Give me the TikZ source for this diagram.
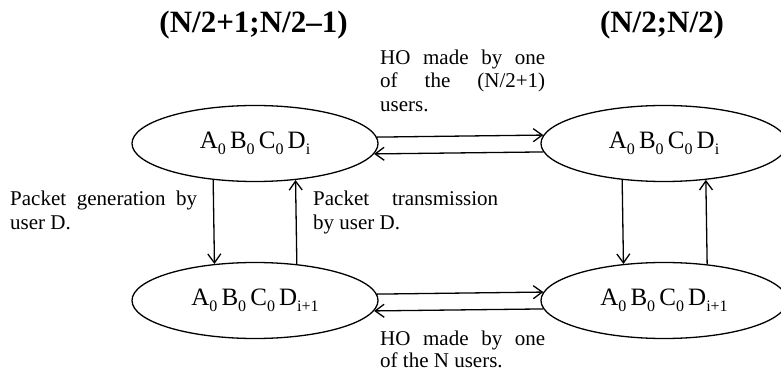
\documentclass[tikz,border=0pt]{standalone}
\usepackage{fontspec}
\setmainfont{Liberation Serif}
\usetikzlibrary{arrows.meta,shapes.geometric}

% state label with lowered subscripts
\newcommand\lowsub[1]{\raisebox{-0.22em}{\fontsize{16}{16}\selectfont #1}}

\tikzset{
  state/.style={ellipse, draw, line width=1.3pt, minimum width=246pt,
    minimum height=76pt, inner sep=0pt, font=\fontsize{25}{27}\selectfont},
  flow/.style={line width=1.3pt, -{Straight Barb[length=9pt,width=13pt,line width=1.3pt]}},
  lbl/.style={anchor=base west, inner sep=0pt, font=\fontsize{21}{23}\selectfont},
  head/.style={anchor=base, inner sep=0pt, font=\fontsize{31}{33}\selectfont\bfseries}
}

\begin{document}
\begin{tikzpicture}[x=1pt,y=-1pt]
\useasboundingbox (0,0) rectangle (781,379);

% headers
\node[head] (h1) at (253.5,33) {(N/2+1;N/2\textendash1)};
\node[head] (h2) at (662,33) {(N/2;N/2)};

% states
\node[state] (TL) at (255,143.5) {A\lowsub{0}\,B\lowsub{0}\,C\lowsub{0}\,D\lowsub{i}};
\node[state] (TR) at (664,143.5) {A\lowsub{0}\,B\lowsub{0}\,C\lowsub{0}\,D\lowsub{i}};
\node[state] (BL) at (255,300.5) {A\lowsub{0}\,B\lowsub{0}\,C\lowsub{0}\,D\lowsub{i+1}};
\node[state] (BR) at (664,300.5) {A\lowsub{0}\,B\lowsub{0}\,C\lowsub{0}\,D\lowsub{i+1}};

% handovers between the two groups
\draw[flow] (TL.3.56) -- (TR.176.44);
\draw[flow] (TR.184.05) -- (TL.355.95);
\draw[flow] (BL.3.07) -- (BR.176.93);
\draw[flow] (BR.184.82) -- (BL.355.18);

% packet generation / transmission
\draw[flow] (TL.221.94) -- (BL.138.06);
\draw[flow] (BL.41.15) -- (TL.318.85);
\draw[flow] (TR.221.94) -- (BR.138.06);
\draw[flow] (BR.40.38) -- (TR.319.62);

% labels
\node[lbl] (ho1a) at (380,65) {\makebox[165pt][s]{HO made by one}};
\node[lbl] (ho1b) at (380,88) {\makebox[165pt][s]{of the (N/2+1)}};
\node[lbl] (ho1c) at (380,112) {users.};

\node[lbl] (ho2a) at (380,345) {\makebox[165pt][s]{HO made by one}};
\node[lbl] (ho2b) at (380,367) {of the N users.};

\node[lbl] (pga) at (10,206) {\makebox[187pt][s]{Packet generation by}};
\node[lbl] (pgb) at (10,230) {user D.};

\node[lbl] (pta) at (313,206) {\makebox[185pt][s]{Packet transmission}};
\node[lbl] (ptb) at (313,230) {by user D.};
\end{tikzpicture}
\end{document}
